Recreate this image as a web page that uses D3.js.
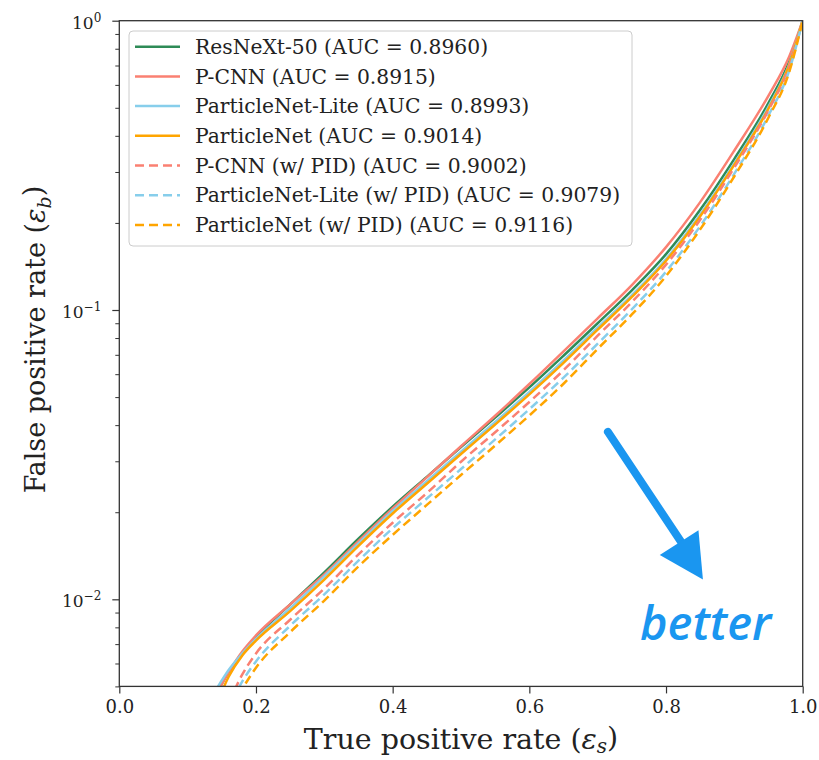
<!DOCTYPE html>
<html>
<head>
<meta charset="utf-8">
<script src="https://cdn.jsdelivr.net/npm/d3@7"></script>
<style>
  body { margin: 0; background: #fff; }
  svg text { font-family: "DejaVu Serif", serif; fill: #222; }
</style>
</head>
<body>
<div id="chart"></div>
<script>
// true positive rate grid shared by every curve
var tpr = [0.14, 0.16, 0.18, 0.2, 0.25, 0.3, 0.35, 0.4, 0.45, 0.5, 0.55, 0.6,
           0.65, 0.7, 0.75, 0.8, 0.85, 0.9, 0.95, 0.98, 1.0];

var fpr_resnext   = [0.0046, 0.0056, 0.0065, 0.0074, 0.0096, 0.0124, 0.0162, 0.0209, 0.0265, 0.0336, 0.0425, 0.0540,
                     0.0695, 0.0900, 0.117, 0.156, 0.222, 0.333, 0.52, 0.72, 1.0];
var fpr_pcnn      = [0.0046, 0.0056, 0.0066, 0.0075, 0.0096, 0.0122, 0.0159, 0.0206, 0.0264, 0.0338, 0.0431, 0.0555,
                     0.0720, 0.0936, 0.122, 0.165, 0.236, 0.356, 0.551, 0.749, 1.0];
var fpr_pnlite    = [0.0048, 0.0057, 0.0065, 0.0073, 0.0093, 0.0120, 0.0156, 0.0202, 0.0256, 0.0324, 0.0410, 0.0521,
                     0.0670, 0.0870, 0.1125, 0.150, 0.214, 0.322, 0.505, 0.705, 1.0];
var fpr_pn        = [0.0042, 0.0054, 0.0064, 0.0072, 0.0091, 0.0117, 0.0153, 0.0198, 0.0251, 0.0318, 0.0402, 0.0511,
                     0.0657, 0.0855, 0.111, 0.148, 0.211, 0.318, 0.497, 0.70, 1.0];
var fpr_pcnn_pid  = [0.0036, 0.0044, 0.0055, 0.0065, 0.0085, 0.0109, 0.0143, 0.0184, 0.0233, 0.0299, 0.0378, 0.0481,
                     0.0619, 0.0815, 0.1065, 0.1435, 0.205, 0.311, 0.491, 0.691, 1.0];
var fpr_pnlite_pid = [0.0033, 0.0042, 0.0052, 0.0061, 0.0081, 0.0104, 0.0136, 0.0176, 0.0223, 0.0282, 0.0357, 0.0454,
                      0.0584, 0.0765, 0.1006, 0.1357, 0.195, 0.296, 0.471, 0.67, 1.0];
var fpr_pn_pid    = [0.0031, 0.0040, 0.0049, 0.0058, 0.0077, 0.0099, 0.0130, 0.0167, 0.0212, 0.0269, 0.0340, 0.0432,
                     0.0556, 0.0734, 0.0965, 0.131, 0.190, 0.290, 0.463, 0.662, 1.0];

var series_labels = ["ResNeXt-50 (AUC = 0.8960)", "P-CNN (AUC = 0.8915)", "ParticleNet-Lite (AUC = 0.8993)",
                     "ParticleNet (AUC = 0.9014)", "P-CNN (w/ PID) (AUC = 0.9002)",
                     "ParticleNet-Lite (w/ PID) (AUC = 0.9079)", "ParticleNet (w/ PID) (AUC = 0.9116)"];
var series_values = [fpr_resnext, fpr_pcnn, fpr_pnlite, fpr_pn, fpr_pcnn_pid, fpr_pnlite_pid, fpr_pn_pid];
var series_colors = ["#2e8b57", "#fa8072", "#87ceeb", "#ffa500", "#fa8072", "#87ceeb", "#ffa500"];
var series_dashed = [false, false, false, false, true, true, true];

var x_ticks = [0, 0.2, 0.4, 0.6, 0.8, 1.0];
var y_major = [0.01, 0.1, 1];
var y_major_exp = ["\u22122", "\u22121", "0"];

// "better" arrow, in data units: start, shaft end, head tip
var arrow_tpr = [0.715, 0.83, 0.854];
var arrow_fpr = [0.0379, 0.0148, 0.0117];
var note_text = "better";

var chart_w = 819, chart_h = 760;
var plot_left = 119.3, plot_right = 802.7, plot_top = 20.7, plot_bottom = 686.4;

var svg = d3.select("#chart").append("svg")
  .attr("width", chart_w)
  .attr("height", chart_h);

var x = d3.scaleLinear().domain([0, 1]).range([plot_left, plot_right]);
var y = d3.scaleLog().domain([0.005, 1]).range([plot_bottom, plot_top]);

svg.append("clipPath").attr("id", "plotclip")
  .append("rect")
  .attr("x", plot_left).attr("y", plot_top)
  .attr("width", plot_right - plot_left).attr("height", plot_bottom - plot_top);

// curves
var line = d3.line()
  .curve(d3.curveMonotoneX)
  .x(function (d, i) { return x(tpr[i]); })
  .y(function (d) { return y(d); });

var curves = svg.append("g").attr("clip-path", "url(#plotclip)");
series_values.forEach(function (vals, k) {
  curves.append("path")
    .datum(vals)
    .attr("d", line)
    .attr("fill", "none")
    .attr("stroke", series_colors[k])
    .attr("stroke-width", 2.5)
    .attr("stroke-dasharray", series_dashed[k] ? "9,5" : null);
});

// x axis
var xAxis = svg.append("g")
  .attr("transform", "translate(0," + plot_bottom + ")")
  .call(d3.axisBottom(x).tickValues(x_ticks).tickFormat(d3.format(".1f")).tickSize(7).tickPadding(7));
xAxis.select(".domain").remove();
xAxis.selectAll("line").attr("stroke", "#333").attr("stroke-width", 1.2);
xAxis.selectAll("text").style("font-size", "18px").attr("fill", "#222");

// y axis: minor then major ticks
var y_minor = [];
[0.001, 0.01, 0.1].forEach(function (dec) {
  for (var m = 2; m <= 9; m++) {
    var v = dec * m;
    if (v >= 0.005 && v < 1) y_minor.push(v);
  }
});
var yMinor = svg.append("g")
  .attr("transform", "translate(" + plot_left + ",0)")
  .call(d3.axisLeft(y).tickValues(y_minor).tickFormat("").tickSize(4));
yMinor.select(".domain").remove();
yMinor.selectAll("line").attr("stroke", "#333").attr("stroke-width", 1);

var yAxis = svg.append("g")
  .attr("transform", "translate(" + plot_left + ",0)")
  .call(d3.axisLeft(y).tickValues(y_major).tickFormat("").tickSize(7));
yAxis.select(".domain").remove();
yAxis.selectAll("line").attr("stroke", "#333").attr("stroke-width", 1.2);
yAxis.selectAll(".tick").each(function (d, i) {
  var t = d3.select(this).append("text")
    .attr("x", -18)
    .attr("dy", "0.45em")
    .attr("text-anchor", "end")
    .style("font-size", "17px");
  t.append("tspan").text("10");
  t.append("tspan").attr("dy", "-0.6em").style("font-size", "12px").text(y_major_exp[i]);
});

// frame
svg.append("rect")
  .attr("x", plot_left).attr("y", plot_top)
  .attr("width", plot_right - plot_left).attr("height", plot_bottom - plot_top)
  .attr("fill", "none")
  .attr("stroke", "#333")
  .attr("stroke-width", 1.3);

// axis labels
var xl = svg.append("text")
  .attr("x", (plot_left + plot_right) / 2)
  .attr("y", 749)
  .attr("text-anchor", "middle")
  .style("font-size", "28.5px");
xl.append("tspan").text("True positive rate (");
xl.append("tspan").style("font-style", "italic").text("\u03b5");
xl.append("tspan").attr("dy", "0.2em").style("font-size", "20px").style("font-style", "italic").text("s");
xl.append("tspan").attr("dy", "-0.2em").text(")");

var yl = svg.append("text")
  .attr("transform", "translate(45," + ((plot_top + plot_bottom) / 2 - 14) + ") rotate(-90)")
  .attr("text-anchor", "middle")
  .style("font-size", "27px");
yl.append("tspan").text("False positive rate (");
yl.append("tspan").style("font-style", "italic").text("\u03b5");
yl.append("tspan").attr("dy", "0.3em").style("font-size", "19px").style("font-style", "italic").text("b");
yl.append("tspan").attr("dy", "-0.3em").text(")");

// legend
var legend = svg.append("g");
legend.append("rect")
  .attr("x", 129).attr("y", 31)
  .attr("width", 503).attr("height", 215)
  .attr("rx", 4)
  .attr("fill", "#fff").attr("fill-opacity", 0.85)
  .attr("stroke", "#ccc").attr("stroke-width", 1);
series_labels.forEach(function (lab, k) {
  var cy = 46.7 + k * 29.7;
  legend.append("line")
    .attr("x1", 135).attr("x2", 180)
    .attr("y1", cy).attr("y2", cy)
    .attr("stroke", series_colors[k])
    .attr("stroke-width", 2.5)
    .attr("stroke-dasharray", series_dashed[k] ? "9,5" : null);
  legend.append("text")
    .attr("x", 195).attr("y", cy)
    .attr("dy", "0.35em")
    .style("font-size", "20.3px")
    .text(lab);
});

// "better" annotation
var blue = "#1a96f0";
var arrow = svg.append("g");
arrow.append("line")
  .attr("x1", x(arrow_tpr[0])).attr("y1", y(arrow_fpr[0]))
  .attr("x2", x(arrow_tpr[1])).attr("y2", y(arrow_fpr[1]))
  .attr("stroke", blue)
  .attr("stroke-width", 8)
  .attr("stroke-linecap", "round");
var tipX = x(arrow_tpr[2]), tipY = y(arrow_fpr[2]);
var ang = Math.atan2(tipY - y(arrow_fpr[0]), tipX - x(arrow_tpr[0]));
var headLen = 44, headHalf = 23;
var bx = tipX - headLen * Math.cos(ang), by = tipY - headLen * Math.sin(ang);
arrow.append("path")
  .attr("d", "M" + tipX + "," + tipY +
    "L" + (bx + headHalf * Math.sin(ang)) + "," + (by - headHalf * Math.cos(ang)) +
    "L" + (bx - headHalf * Math.sin(ang)) + "," + (by + headHalf * Math.cos(ang)) + "Z")
  .attr("fill", blue);

svg.append("text")
  .attr("x", x(0.762))
  .attr("y", y(0.00723))
  .style("font-family", "'Open Sans', sans-serif")
  .style("font-style", "italic")
  .style("font-weight", "600")
  .style("font-size", "47px")
  .style("fill", blue)
  .text(note_text);
</script>
</body>
</html>
